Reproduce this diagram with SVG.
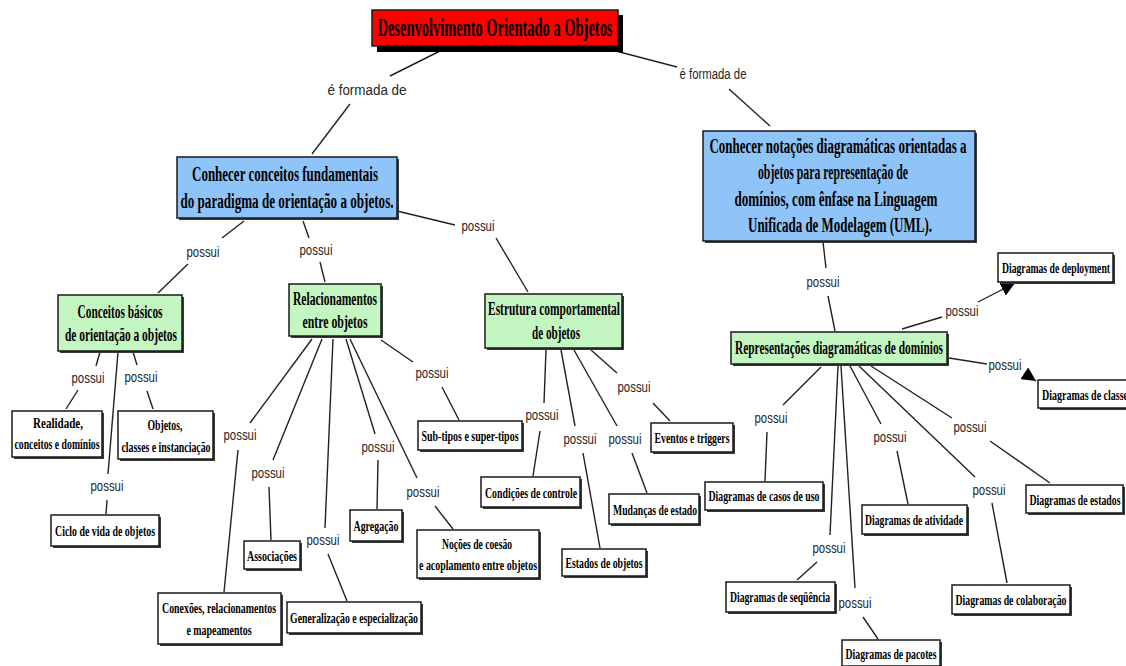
<svg xmlns="http://www.w3.org/2000/svg" width="1126" height="666" viewBox="0 0 1126 666">
<defs>
<style>
.bx{stroke:#1a1a1a;stroke-width:1.5}
.sh{fill:#3a3a3a}
.w{fill:#ffffff}
.bl{fill:#8fc4f8}
.gr{fill:#c4f6c2}
.t{font-family:"Liberation Serif","Times New Roman",serif;font-weight:bold;text-anchor:middle;fill:#000}
.s14{font-size:15px}
.s17{font-size:18px}
.s19{font-size:20px}
.lbl{font-family:"Liberation Sans",Arial,sans-serif;font-size:14px;text-anchor:middle;fill:#262626}
.c line{stroke:#222;stroke-width:1.4}
</style>
<marker id="ar" viewBox="0 0 10 10" refX="10" refY="5" markerUnits="userSpaceOnUse" markerWidth="14" markerHeight="14" orient="auto">
<path d="M0,0 L10,5 L0,10 z" fill="#000"/>
</marker>
</defs>
<rect width="1126" height="666" fill="#ffffff"/>

<g id="connectors" class="c">
<line x1="440" y1="51" x2="390" y2="76"/><line x1="350" y1="104" x2="312" y2="154"/>
<line x1="612" y1="50" x2="677" y2="67"/><line x1="729" y1="89" x2="770" y2="126"/>
<line x1="244" y1="221" x2="222" y2="238"/><line x1="188" y1="264" x2="158" y2="293"/>
<line x1="303" y1="221" x2="309" y2="238"/><line x1="320" y1="262" x2="325" y2="282"/>
<line x1="397" y1="211" x2="455" y2="225"/><line x1="496" y1="238" x2="528" y2="292"/>
<line x1="100" y1="352" x2="96" y2="366"/><line x1="78" y1="390" x2="66" y2="409"/>
<line x1="133" y1="352" x2="137" y2="365"/><line x1="147" y1="391" x2="153" y2="409"/>
<line x1="118" y1="352" x2="108" y2="474"/><line x1="107" y1="500" x2="106" y2="514"/>
<line x1="312" y1="339" x2="250" y2="423"/><line x1="238" y1="450" x2="224" y2="592"/>
<line x1="322" y1="339" x2="273" y2="460"/><line x1="269" y1="487" x2="271" y2="540"/>
<line x1="333" y1="339" x2="325" y2="528"/><line x1="328" y1="554" x2="347" y2="601"/>
<line x1="346" y1="339" x2="375" y2="434"/><line x1="378" y1="460" x2="377" y2="509"/>
<line x1="350" y1="339" x2="417" y2="478"/><line x1="435" y1="506" x2="453" y2="529"/>
<line x1="381" y1="340" x2="413" y2="362"/><line x1="442" y1="387" x2="459" y2="420"/>
<line x1="546" y1="350" x2="544" y2="403"/><line x1="540" y1="431" x2="533" y2="476"/>
<line x1="561" y1="350" x2="575" y2="426"/><line x1="583" y1="453" x2="600" y2="548"/>
<line x1="574" y1="350" x2="617" y2="426"/><line x1="632" y1="453" x2="647" y2="493"/>
<line x1="591" y1="350" x2="617" y2="373"/><line x1="653" y1="403" x2="670" y2="421"/>
<line x1="823" y1="242" x2="826" y2="268"/><line x1="828" y1="296" x2="835" y2="331"/>
<line x1="902" y1="329" x2="942" y2="317"/><line x1="978" y1="302" x2="1015" y2="283" marker-end="url(#ar)"/>
<line x1="949" y1="358" x2="987" y2="364"/><line x1="1024" y1="373" x2="1036" y2="381" marker-end="url(#ar)"/>
<line x1="821" y1="367" x2="783" y2="405"/><line x1="767" y1="432" x2="765" y2="481"/>
<line x1="838" y1="366" x2="830" y2="535"/><line x1="817" y1="562" x2="797" y2="580"/>
<line x1="841" y1="366" x2="855" y2="588"/><line x1="863" y1="617" x2="878" y2="639"/>
<line x1="850" y1="366" x2="881" y2="424"/><line x1="897" y1="451" x2="908" y2="504"/>
<line x1="871" y1="366" x2="952" y2="418"/><line x1="990" y1="441" x2="1050" y2="483"/>
<line x1="859" y1="366" x2="975" y2="477"/><line x1="992" y1="503" x2="1007" y2="583"/>
</g>

<g id="labels">
<text class="lbl" x="367" y="95" textLength="79" lengthAdjust="spacingAndGlyphs">é formada de</text>
<text class="lbl" x="713" y="79" textLength="67" lengthAdjust="spacingAndGlyphs">é formada de</text>
<text class="lbl" x="203" y="257" textLength="33" lengthAdjust="spacingAndGlyphs">possui</text>
<text class="lbl" x="316" y="255" textLength="33" lengthAdjust="spacingAndGlyphs">possui</text>
<text class="lbl" x="478" y="231" textLength="33" lengthAdjust="spacingAndGlyphs">possui</text>
<text class="lbl" x="88" y="383" textLength="33" lengthAdjust="spacingAndGlyphs">possui</text>
<text class="lbl" x="141" y="382" textLength="33" lengthAdjust="spacingAndGlyphs">possui</text>
<text class="lbl" x="107" y="491" textLength="33" lengthAdjust="spacingAndGlyphs">possui</text>
<text class="lbl" x="240" y="440" textLength="33" lengthAdjust="spacingAndGlyphs">possui</text>
<text class="lbl" x="268" y="478" textLength="33" lengthAdjust="spacingAndGlyphs">possui</text>
<text class="lbl" x="323" y="545" textLength="33" lengthAdjust="spacingAndGlyphs">possui</text>
<text class="lbl" x="378" y="452" textLength="33" lengthAdjust="spacingAndGlyphs">possui</text>
<text class="lbl" x="423" y="497" textLength="33" lengthAdjust="spacingAndGlyphs">possui</text>
<text class="lbl" x="432" y="378" textLength="33" lengthAdjust="spacingAndGlyphs">possui</text>
<text class="lbl" x="542" y="420" textLength="33" lengthAdjust="spacingAndGlyphs">possui</text>
<text class="lbl" x="580" y="444" textLength="33" lengthAdjust="spacingAndGlyphs">possui</text>
<text class="lbl" x="625" y="444" textLength="33" lengthAdjust="spacingAndGlyphs">possui</text>
<text class="lbl" x="634" y="392" textLength="33" lengthAdjust="spacingAndGlyphs">possui</text>
<text class="lbl" x="823" y="287" textLength="33" lengthAdjust="spacingAndGlyphs">possui</text>
<text class="lbl" x="962" y="316" textLength="33" lengthAdjust="spacingAndGlyphs">possui</text>
<text class="lbl" x="1005" y="370" textLength="33" lengthAdjust="spacingAndGlyphs">possui</text>
<text class="lbl" x="771" y="423" textLength="33" lengthAdjust="spacingAndGlyphs">possui</text>
<text class="lbl" x="829" y="553" textLength="33" lengthAdjust="spacingAndGlyphs">possui</text>
<text class="lbl" x="855" y="608" textLength="33" lengthAdjust="spacingAndGlyphs">possui</text>
<text class="lbl" x="890" y="442" textLength="33" lengthAdjust="spacingAndGlyphs">possui</text>
<text class="lbl" x="970" y="432" textLength="33" lengthAdjust="spacingAndGlyphs">possui</text>
<text class="lbl" x="989" y="495" textLength="33" lengthAdjust="spacingAndGlyphs">possui</text>
</g>

<g id="root">
<rect x="377" y="15" width="246" height="37" fill="#000"/>
<rect class="bx" x="372" y="10" width="246" height="36" fill="#ff0000"/>
<text class="t" x="495" y="36" font-size="26" textLength="235" lengthAdjust="spacingAndGlyphs">Desenvolvimento Orientado a Objetos</text>
</g>

<g id="n-conceitos-fundamentais">
<rect class="sh" x="179" y="159" width="220" height="61"/>
<rect class="bx bl" x="177" y="157" width="220" height="61"/>
<text class="t s19" x="285" y="181" textLength="186" lengthAdjust="spacingAndGlyphs">Conhecer conceitos fundamentais</text>
<text class="t s19" x="287" y="208" textLength="213" lengthAdjust="spacingAndGlyphs">do paradigma de orientação a objetos.</text>
</g>

<g id="n-notacoes">
<rect class="sh" x="705" y="133" width="272" height="110"/>
<rect class="bx bl" x="703" y="131" width="272" height="110"/>
<text class="t s19" x="838" y="153" textLength="257" lengthAdjust="spacingAndGlyphs">Conhecer notações diagramáticas orientadas a</text>
<text class="t s19" x="833" y="179" textLength="150" lengthAdjust="spacingAndGlyphs">objetos para representação de</text>
<text class="t s19" x="836" y="206" textLength="203" lengthAdjust="spacingAndGlyphs">domínios, com ênfase na Linguagem</text>
<text class="t s19" x="840" y="232" textLength="184" lengthAdjust="spacingAndGlyphs">Unificada de Modelagem (UML).</text>
</g>

<g id="n-conceitos-basicos">
<rect class="sh" x="60" y="297" width="124" height="56"/>
<rect class="bx gr" x="58" y="295" width="124" height="56"/>
<text class="t s17" x="120" y="318" textLength="85" lengthAdjust="spacingAndGlyphs">Conceitos básicos</text>
<text class="t s17" x="121" y="341" textLength="112" lengthAdjust="spacingAndGlyphs">de orientação a objetos</text>
</g>

<g id="n-relacionamentos">
<rect class="sh" x="291" y="286" width="92" height="52"/>
<rect class="bx gr" x="289" y="284" width="92" height="52"/>
<text class="t s17" x="335" y="305" textLength="84" lengthAdjust="spacingAndGlyphs">Relacionamentos</text>
<text class="t s17" x="335" y="328" textLength="65" lengthAdjust="spacingAndGlyphs">entre objetos</text>
</g>

<g id="n-estrutura">
<rect class="sh" x="487" y="296" width="137" height="54"/>
<rect class="bx gr" x="485" y="294" width="137" height="54"/>
<text class="t s17" x="554" y="315" textLength="132" lengthAdjust="spacingAndGlyphs">Estrutura comportamental</text>
<text class="t s17" x="556" y="339" textLength="48" lengthAdjust="spacingAndGlyphs">de objetos</text>
</g>

<g id="n-representacoes">
<rect class="sh" x="733" y="334" width="216" height="32"/>
<rect class="bx gr" x="731" y="332" width="216" height="32"/>
<text class="t s17" x="839" y="354" textLength="208" lengthAdjust="spacingAndGlyphs">Representações diagramáticas de domínios</text>
</g>

<g id="n-realidade">
<rect class="sh" x="14" y="413" width="90" height="46"/>
<rect class="bx w" x="12" y="411" width="90" height="46"/>
<text class="t s14" x="58" y="428" textLength="50" lengthAdjust="spacingAndGlyphs">Realidade,</text>
<text class="t s14" x="57" y="449" textLength="85" lengthAdjust="spacingAndGlyphs">conceitos e domínios</text>
</g>

<g id="n-objetos">
<rect class="sh" x="120" y="413" width="95" height="48"/>
<rect class="bx w" x="118" y="411" width="95" height="48"/>
<text class="t s14" x="165" y="430" textLength="35" lengthAdjust="spacingAndGlyphs">Objetos,</text>
<text class="t s14" x="166" y="452" textLength="89" lengthAdjust="spacingAndGlyphs">classes e instanciação</text>
</g>

<g id="n-ciclo">
<rect class="sh" x="53" y="517" width="108" height="31"/>
<rect class="bx w" x="51" y="515" width="108" height="31"/>
<text class="t s14" x="105" y="536" textLength="100" lengthAdjust="spacingAndGlyphs">Ciclo de vida de objetos</text>
</g>

<g id="n-subtipos">
<rect class="sh" x="420" y="423" width="104" height="29"/>
<rect class="bx w" x="418" y="421" width="104" height="29"/>
<text class="t s14" x="470" y="441" textLength="97" lengthAdjust="spacingAndGlyphs">Sub-tipos e super-tipos</text>
</g>

<g id="n-associacoes">
<rect class="sh" x="246" y="543" width="56" height="28"/>
<rect class="bx w" x="244" y="541" width="56" height="28"/>
<text class="t s14" x="272" y="561" textLength="50" lengthAdjust="spacingAndGlyphs">Associações</text>
</g>

<g id="n-conexoes">
<rect class="sh" x="160" y="595" width="123" height="51"/>
<rect class="bx w" x="158" y="593" width="123" height="51"/>
<text class="t s14" x="219" y="613" textLength="114" lengthAdjust="spacingAndGlyphs">Conexões, relacionamentos</text>
<text class="t s14" x="219" y="635" textLength="65" lengthAdjust="spacingAndGlyphs">e mapeamentos</text>
</g>

<g id="n-generalizacao">
<rect class="sh" x="289" y="604" width="134" height="31"/>
<rect class="bx w" x="287" y="602" width="134" height="31"/>
<text class="t s14" x="354" y="623" textLength="128" lengthAdjust="spacingAndGlyphs">Generalização e especialização</text>
</g>

<g id="n-agregacao">
<rect class="sh" x="352" y="512" width="52" height="31"/>
<rect class="bx w" x="350" y="510" width="52" height="31"/>
<text class="t s14" x="376" y="531" textLength="45" lengthAdjust="spacingAndGlyphs">Agregação</text>
</g>

<g id="n-nocoes">
<rect class="sh" x="419" y="532" width="122" height="48"/>
<rect class="bx w" x="417" y="530" width="122" height="48"/>
<text class="t s14" x="477" y="549" textLength="70" lengthAdjust="spacingAndGlyphs">Noções de coesão</text>
<text class="t s14" x="478" y="570" textLength="118" lengthAdjust="spacingAndGlyphs">e acoplamento entre objetos</text>
</g>

<g id="n-condicoes">
<rect class="sh" x="483" y="479" width="99" height="30"/>
<rect class="bx w" x="481" y="477" width="99" height="30"/>
<text class="t s14" x="531" y="498" textLength="92" lengthAdjust="spacingAndGlyphs">Condições de controle</text>
</g>

<g id="n-estados-objetos">
<rect class="sh" x="564" y="551" width="84" height="27"/>
<rect class="bx w" x="562" y="549" width="84" height="27"/>
<text class="t s14" x="604" y="568" textLength="77" lengthAdjust="spacingAndGlyphs">Estados de objetos</text>
</g>

<g id="n-mudancas">
<rect class="sh" x="611" y="496" width="90" height="30"/>
<rect class="bx w" x="609" y="494" width="90" height="30"/>
<text class="t s14" x="655" y="515" textLength="84" lengthAdjust="spacingAndGlyphs">Mudanças de estado</text>
</g>

<g id="n-eventos">
<rect class="sh" x="653" y="425" width="82" height="29"/>
<rect class="bx w" x="651" y="423" width="82" height="29"/>
<text class="t s14" x="692" y="443" textLength="75" lengthAdjust="spacingAndGlyphs">Eventos e triggers</text>
</g>

<g id="n-deployment">
<rect class="sh" x="1000" y="255" width="115" height="29"/>
<rect class="bx w" x="998" y="253" width="115" height="29"/>
<text class="t s14" x="1056" y="273" textLength="108" lengthAdjust="spacingAndGlyphs">Diagramas de deployment</text>
</g>

<g id="n-classe">
<rect class="sh" x="1040" y="382" width="92" height="28"/>
<rect class="bx w" x="1038" y="380" width="92" height="28"/>
<text class="t s14" x="1042" y="400" style="text-anchor:start" textLength="86" lengthAdjust="spacingAndGlyphs">Diagramas de classe</text>
</g>

<g id="n-casos-uso">
<rect class="sh" x="707" y="484" width="118" height="28"/>
<rect class="bx w" x="705" y="482" width="118" height="28"/>
<text class="t s14" x="764" y="501" textLength="111" lengthAdjust="spacingAndGlyphs">Diagramas de casos de uso</text>
</g>

<g id="n-atividade">
<rect class="sh" x="864" y="507" width="105" height="29"/>
<rect class="bx w" x="862" y="505" width="105" height="29"/>
<text class="t s14" x="914" y="525" textLength="98" lengthAdjust="spacingAndGlyphs">Diagramas de atividade</text>
</g>

<g id="n-estados">
<rect class="sh" x="1028" y="487" width="97" height="28"/>
<rect class="bx w" x="1026" y="485" width="97" height="28"/>
<text class="t s14" x="1075" y="505" textLength="91" lengthAdjust="spacingAndGlyphs">Diagramas de estados</text>
</g>

<g id="n-colaboracao">
<rect class="sh" x="954" y="587" width="118" height="29"/>
<rect class="bx w" x="952" y="585" width="118" height="29"/>
<text class="t s14" x="1011" y="605" textLength="111" lengthAdjust="spacingAndGlyphs">Diagramas de colaboração</text>
</g>

<g id="n-sequencia">
<rect class="sh" x="728" y="584" width="109" height="30"/>
<rect class="bx w" x="726" y="582" width="109" height="30"/>
<text class="t s14" x="780" y="602" textLength="100" lengthAdjust="spacingAndGlyphs">Diagramas de seqüência</text>
</g>

<g id="n-pacotes">
<rect class="sh" x="844" y="642" width="98" height="26"/>
<rect class="bx w" x="842" y="640" width="98" height="26"/>
<text class="t s14" x="891" y="659" textLength="91" lengthAdjust="spacingAndGlyphs">Diagramas de pacotes</text>
</g>
</svg>
